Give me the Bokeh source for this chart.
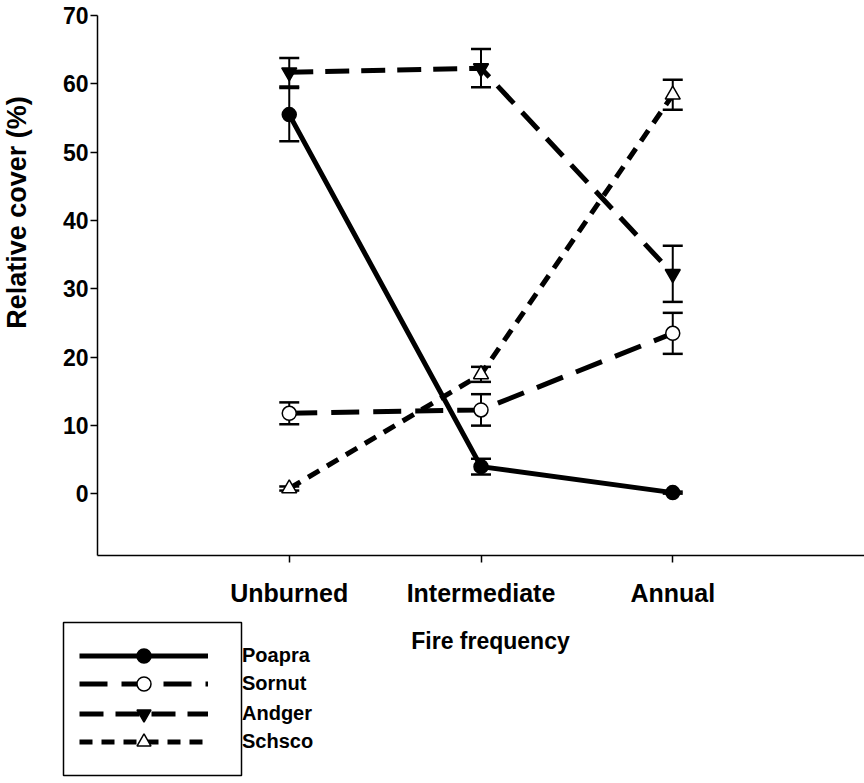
import math
from bokeh.plotting import figure
from bokeh.models import (ColumnDataSource, Whisker, TeeHead, FixedTicker, Range1d,
                          Legend, LegendItem, Label, BoxAnnotation)
from bokeh.embed import file_html
from bokeh.resources import INLINE

# ---- data ----
categories = ["Unburned", "Intermediate", "Annual"]
x_pos = [1, 2, 3]

poapra = [55.5, 4.0, 0.2]
poapra_err = [3.9, 1.15, 0.15]
sornut = [11.8, 12.3, 23.5]
sornut_err = [1.6, 2.3, 3.0]
andger = [61.7, 62.3, 32.2]
andger_err = [2.1, 2.8, 4.1]
schsco = [0.8, 17.5, 58.4]
schsco_err = [0.3, 1.1, 2.2]

y_ticks = [0, 10, 20, 30, 40, 50, 60, 70]

FONT = "Liberation Sans"
W, H = 864, 783

# axes box in pixels: x 0..4 -> 97..864, y -9..70 -> 555..15
X0, X1, Y0, Y1 = 0.0, 4.0, -9.0, 70.0
PX_L, PX_R, PX_T, PX_B = 97, 864, 15, 555
sx = (PX_R - PX_L) / (X1 - X0)
sy = (PX_B - PX_T) / (Y1 - Y0)

p = figure(width=W, height=H, output_backend="svg", toolbar_location=None,
           x_range=Range1d(X0 - PX_L / sx, X1 + (W - PX_R) / sx),
           y_range=Range1d(Y0 - (H - PX_B) / sy, Y1 + PX_T / sy))
p.min_border = 0
p.min_border_left = 0
p.min_border_right = 0
p.min_border_top = 0
p.min_border_bottom = 0
p.outline_line_color = None
p.grid.visible = False

# axes drawn at fixed positions
p.xaxis.fixed_location = Y0
p.xaxis.bounds = (X0, X1)
p.yaxis.fixed_location = X0
p.yaxis.bounds = (Y0, Y1)
p.xaxis.ticker = FixedTicker(ticks=x_pos)
p.xaxis.major_label_overrides = {x: c for x, c in zip(x_pos, categories)}
p.yaxis.ticker = FixedTicker(ticks=y_ticks)
for ax in (p.xaxis, p.yaxis):
    ax.axis_line_width = 1.5
    ax.axis_line_color = "black"
    ax.major_tick_line_color = "black"
    ax.major_tick_line_width = 1.5
    ax.major_tick_out = 7
    ax.major_tick_in = 0
    ax.minor_tick_line_color = None
    ax.major_label_text_font = FONT
    ax.major_label_text_font_style = "bold"
    ax.major_label_text_color = "black"
p.xaxis.major_label_text_font_size = "25px"
p.yaxis.major_label_text_font_size = "23px"
p.xaxis.major_label_standoff = 16
p.yaxis.major_label_standoff = 2

series = [
    ("Poapra", poapra, poapra_err, "solid", "circle", "black"),
    ("Sornut", sornut, sornut_err, "28 14", "circle", "white"),
    ("Andger", andger, andger_err, "24 12", "inverted_triangle", "black"),
    ("Schsco", schsco, schsco_err, "13 9", "triangle", "white"),
]

# centre line of each legend row, pixels from the top of the page
LEG_ROW_Y = [655, 684, 713, 742]
GLYPH_H = 35

for i, (name, vals, errs, dash, marker, fill) in enumerate(series):
    src = ColumnDataSource(dict(
        x=x_pos, y=vals,
        upper=[v + e for v, e in zip(vals, errs)],
        lower=[v - e for v, e in zip(vals, errs)],
    ))
    ln = p.line("x", "y", source=src, line_color="black", line_width=5, line_dash=dash)
    w = Whisker(base="x", upper="upper", lower="lower", source=src,
                line_color="black", line_width=2,
                upper_head=TeeHead(size=20, line_color="black", line_width=2.5),
                lower_head=TeeHead(size=20, line_color="black", line_width=2.5))
    p.add_layout(w)
    sz = 15 if "triangle" in marker else 14
    mk = p.scatter("x", "y", source=src, marker=marker, size=sz,
                   fill_color=fill, line_color="black", line_width=1.5)

    leg = Legend(items=[LegendItem(label=name, renderers=[ln, mk])],
                 location=(79, round(H - LEG_ROW_Y[i] - GLYPH_H / 2)))
    leg.glyph_width = 129
    leg.glyph_height = GLYPH_H
    leg.label_height = GLYPH_H
    leg.padding = 0
    leg.margin = 0
    leg.label_standoff = 34
    leg.label_text_font = FONT
    leg.label_text_font_style = "bold"
    leg.label_text_font_size = "20px"
    leg.label_text_color = "black"
    leg.border_line_color = None
    leg.background_fill_alpha = 0
    p.add_layout(leg, "center")

# legend frame (drawn around the symbols)
p.add_layout(BoxAnnotation(left=63, right=241, top=161, bottom=8,
                           left_units="screen", right_units="screen",
                           top_units="screen", bottom_units="screen",
                           fill_alpha=0, line_color="black", line_width=1.5,
                           line_alpha=1))

# axis titles
p.add_layout(Label(x=490, y=143, x_units="screen", y_units="screen",
                   text="Fire frequency", text_align="center", text_baseline="middle",
                   text_font=FONT, text_font_style="bold", text_font_size="23px",
                   text_color="black"))
p.add_layout(Label(x=16, y=571, x_units="screen", y_units="screen", angle=math.pi / 2,
                   text="Relative cover (%)", text_align="center", text_baseline="middle",
                   text_font=FONT, text_font_style="bold", text_font_size="27px",
                   text_color="black"))

open("out.html", "w").write(file_html(p, INLINE))
